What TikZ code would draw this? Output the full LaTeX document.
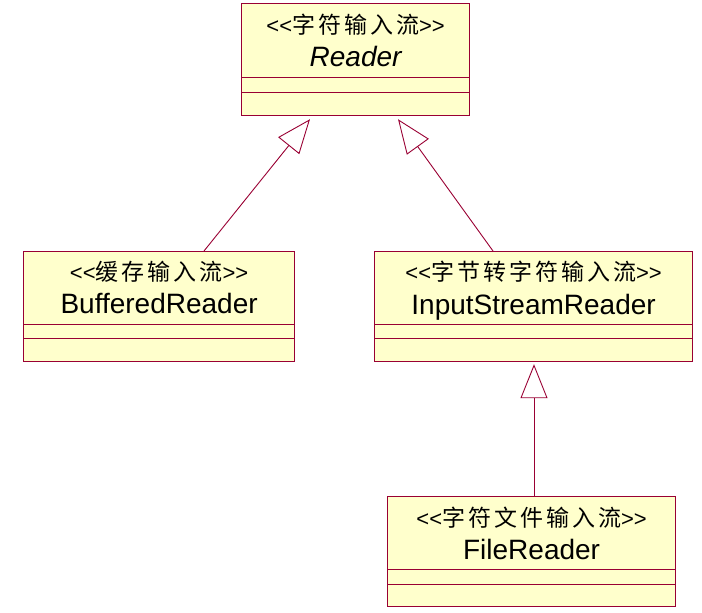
\documentclass[tikz,border=0pt]{standalone}
\usepackage{fontspec}
\setmainfont{Liberation Sans}
\newfontfamily\cjk[LetterSpace=13]{Noto Sans CJK SC}
\usetikzlibrary{arrows.meta,calc}
\definecolor{umlred}{HTML}{990033}
\definecolor{umlfill}{HTML}{FFFFCC}
\tikzset{
  cls/.style={draw=umlred, fill=umlfill, line width=1.2pt, inner sep=0pt, anchor=north west, rectangle},
  sepline/.style={draw=umlred, line width=0.9pt},
  stereo/.style={inner sep=0pt, anchor=base, font=\fontsize{22}{22}\selectfont},
  cjktext/.style={font=\fontsize{23}{23}\selectfont\cjk},
  cname/.style={inner sep=0pt, anchor=base, font=\fontsize{28}{28}\selectfont},
  inh/.style={draw=umlred, line width=0.9pt, -{Triangle[open, length=34pt, width=27pt, line width=0.9pt]}},
}
\newcommand\cj[1]{{\fontsize{23}{23}\selectfont\cjk #1}}
\begin{document}
\begin{tikzpicture}[x=1pt,y=-1pt]
\useasboundingbox (0,0) rectangle (702,613);
% boxes
\node[cls, minimum width=228pt, minimum height=112pt] (reader) at (241,3) {};
\node[cls, minimum width=271pt, minimum height=110pt] (buf) at (23,251) {};
\node[cls, minimum width=318pt, minimum height=110pt] (isr) at (374,251) {};
\node[cls, minimum width=288pt, minimum height=110pt] (file) at (387,496) {};
% separators
\draw[sepline] ($(reader.north west)+(0,74)$) -- ($(reader.north east)+(0,74)$);
\draw[sepline] ($(reader.north west)+(0,89)$) -- ($(reader.north east)+(0,89)$);
\draw[sepline] ($(buf.north west)+(0,73)$) -- ($(buf.north east)+(0,73)$);
\draw[sepline] ($(buf.north west)+(0,87)$) -- ($(buf.north east)+(0,87)$);
\draw[sepline] ($(isr.north west)+(0,73)$) -- ($(isr.north east)+(0,73)$);
\draw[sepline] ($(isr.north west)+(0,87)$) -- ($(isr.north east)+(0,87)$);
\draw[sepline] ($(file.north west)+(0,73)$) -- ($(file.north east)+(0,73)$);
\draw[sepline] ($(file.north west)+(0,88)$) -- ($(file.north east)+(0,88)$);
% texts
\node[stereo] (readerS) at ($(reader.north)+(0,30)$) {<{}<\cj{字符输入流}>{}>};
\node[cname] (readerN) at ($(reader.north)+(0,63)$) {\itshape Reader};
\node[stereo] (bufS) at ($(buf.north)+(0,29)$) {<{}<\cj{缓存输入流}>{}>};
\node[cname] (bufN) at ($(buf.north)+(0,62)$) {BufferedReader};
\node[stereo] (isrS) at ($(isr.north)+(0,29)$) {<{}<\cj{字节转字符输入流}>{}>};
\node[cname] (isrN) at ($(isr.north)+(0,63)$) {InputStreamReader};
\node[stereo] (fileS) at ($(file.north)+(0,30)$) {<{}<\cj{字符文件输入流}>{}>};
\node[cname] (fileN) at ($(file.north)+(0,63)$) {FileReader};
% inheritance connectors
\draw[inh] ($(buf.north west)+(181,0)$) -- ($(reader.south west)+(69,3)$);
\draw[inh] ($(isr.north west)+(119,0)$) -- ($(reader.south west)+(157,3)$);
\draw[inh] ($(file.north west)+(147,0)$) -- ($(isr.south west)+(160,2)$);
\end{tikzpicture}
\end{document}
